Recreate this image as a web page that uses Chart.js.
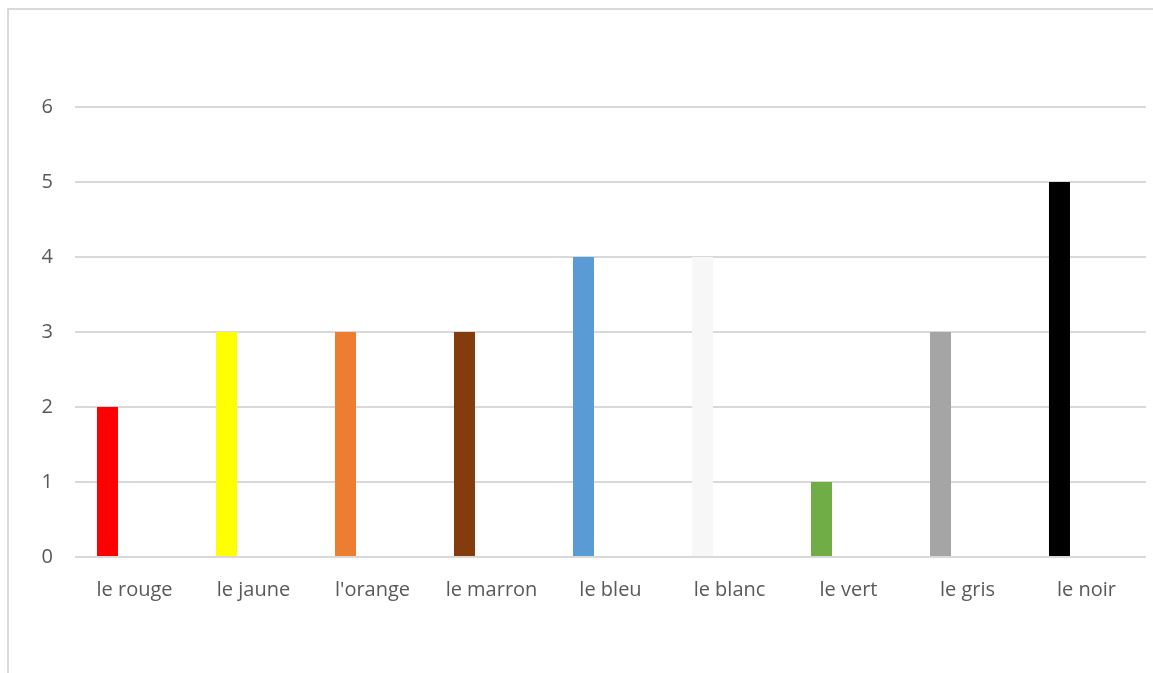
<!DOCTYPE html>
<html>
<head>
<meta charset="utf-8">
<script src="https://cdn.jsdelivr.net/npm/chart.js@4"></script>
<style>
html,body{margin:0;padding:0;background:#fff;overflow:hidden;}
#wrap{position:absolute;left:0;top:0;width:1153px;height:673px;}
#frame{position:absolute;left:7px;top:8px;width:1160px;height:700px;border:2px solid #d9d9d9;box-sizing:border-box;pointer-events:none;}
</style>
</head>
<body>
<div id="wrap"><canvas id="c" width="1153" height="673"></canvas></div>
<div id="frame"></div>
<script>
const categories = ["le rouge","le jaune","l'orange","le marron","le bleu","le blanc","le vert","le gris","le noir"];
const values = [2,3,3,3,4,4,1,3,5];
const barColors = ["#FF0000","#FFFF00","#ED7D31","#843C0C","#5B9BD5","#F7F7F7","#70AD47","#A5A5A5","#000000"];
const emptySeries = [null,null,null,null,null,null,null,null,null];
const yTicks = [0,1,2,3,4,5,6];

new Chart(document.getElementById('c'), {
  type: 'bar',
  data: {
    labels: categories,
    datasets: [
      {data: values, backgroundColor: barColors, borderWidth: 0},
      {data: emptySeries, backgroundColor: '#ffffff', borderWidth: 0}
    ]
  },
  options: {
    responsive: false,
    animation: false,
    devicePixelRatio: 1,
    categoryPercentage: 0.908,
    barPercentage: 0.389,
    layout: {padding: {left: 0, top: 107, right: 7, bottom: 0}},
    plugins: {legend: {display: false}, tooltip: {enabled: false}},
    scales: {
      x: {
        grid: {display: false, drawTicks: false},
        border: {display: false},
        ticks: {color: '#595959', font: {family: 'Open Sans', size: 20}, padding: 21, maxRotation: 0, autoSkip: false},
        afterFit: s => { s.height = 116; }
      },
      y: {
        min: 0, max: 6,
        afterBuildTicks: s => { s.ticks = yTicks.map(v => ({value: v})); },
        grid: {color: '#d9d9d9', lineWidth: 2, drawTicks: false},
        border: {display: false},
        ticks: {color: '#595959', font: {family: 'Open Sans', size: 20}, padding: 22},
        afterFit: s => { s.width = 75; }
      }
    }
  }
});
</script>
</body>
</html>
